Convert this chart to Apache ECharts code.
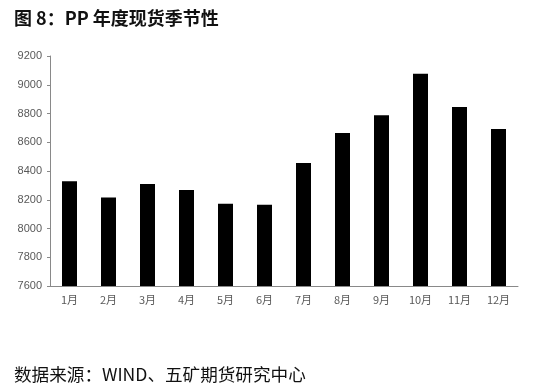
<!DOCTYPE html>
<html><head><meta charset="utf-8">
<script src="https://cdn.jsdelivr.net/npm/echarts@6/dist/echarts.min.js"></script>
<style>html,body{margin:0;padding:0;background:#fff}#c{width:536px;height:391px}</style>
</head><body><div id="c"></div>
<script>
const categories = ['1月','2月','3月','4月','5月','6月','7月','8月','9月','10月','11月','12月'];
const values = [8328, 8215, 8310, 8268, 8173, 8166, 8456, 8664, 8787, 9077, 8845, 8692];
const yTicks = [7600, 7800, 8000, 8200, 8400, 8600, 8800, 9000, 9200];

const chart = echarts.init(document.getElementById('c'), null, {renderer: 'canvas'});
chart.setOption({
  backgroundColor: '#fff',
  animation: false,
  title: [
    {text: '图 8：PP 年度现货季节性', left: 9, top: 4,
     textStyle: {fontFamily: 'Noto Sans CJK SC', fontWeight: 'bold', fontSize: 18, color: '#111'}},
    {text: '数据来源：WIND、五矿期货研究中心', left: 9, top: 361,
     textStyle: {fontFamily: 'Noto Sans CJK SC', fontWeight: 'normal', fontSize: 17.6, color: '#111'}}
  ],
  grid: {left: 50, right: 18, top: 56, bottom: 105, containLabel: false},
  xAxis: {
    type: 'category', data: categories,
    axisLine: {lineStyle: {color: '#898989', width: 1}},
    axisTick: {show: false},
    axisLabel: {color: '#595959', fontSize: 11, fontFamily: 'Noto Sans CJK SC', margin: 8}
  },
  yAxis: {
    type: 'value', min: yTicks[0], max: yTicks[yTicks.length - 1], interval: 200,
    axisLine: {show: true, lineStyle: {color: '#898989', width: 1}},
    axisTick: {show: true, length: 3, lineStyle: {color: '#898989'}},
    splitLine: {show: false},
    axisLabel: {color: '#595959', fontSize: 11, fontFamily: 'Liberation Sans', margin: 8,
      formatter: v => String(v)}
  },
  series: [{
    type: 'bar', data: values, barWidth: 15,
    itemStyle: {color: '#000'}
  }]
});
</script></body></html>
